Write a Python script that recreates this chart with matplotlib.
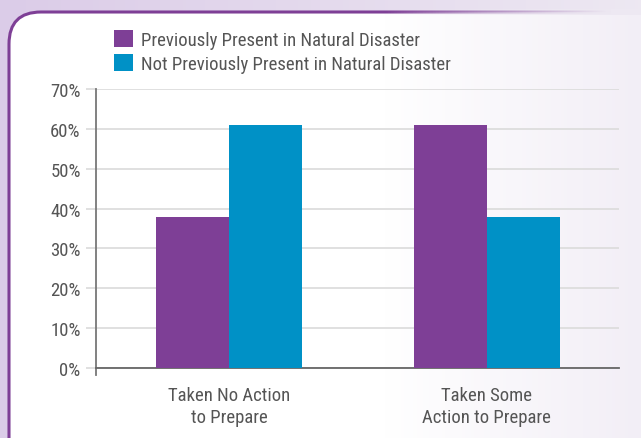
import numpy as np
import matplotlib
matplotlib.use('Agg')
import matplotlib.pyplot as plt
from matplotlib.patches import FancyBboxPatch

# chart data
categories = ['Taken No Action\nto Prepare', 'Taken Some\nAction to Prepare']
series_names = ['Previously Present in Natural Disaster',
                'Not Previously Present in Natural Disaster']
previously = [38, 61]
not_previously = [61, 38]
y_ticks = [0, 10, 20, 30, 40, 50, 60, 70]

PURPLE = '#7e3f96'
BLUE = '#0091c6'
TEXT = '#555555'
FS = 13.5

plt.rcParams['font.family'] = ['Roboto Condensed', 'Liberation Sans Narrow',
                               'Roboto', 'DejaVu Sans']

W, H = 641, 439
fig = plt.figure(figsize=(W / 100, H / 100), dpi=100)

# background: lavender gradient + white rounded panel
bg = fig.add_axes([0, 0, 1, 1])
bg.axis('off')
gx = np.linspace(0, 1, 200)
c0 = np.array([0.86, 0.80, 0.91])
c1 = np.array([0.93, 0.91, 0.95])
grad = c0[None, None, :] * (1 - gx)[None, :, None] + c1[None, None, :] * gx[None, :, None]
grad = np.repeat(grad, 2, axis=0)
bg.imshow(grad, extent=[0, W, H, 0], aspect='auto', zorder=0)

panel = FancyBboxPatch((9, 13), W + 60, H + 60,
                       boxstyle='round,pad=0,rounding_size=32',
                       fc='white', ec=PURPLE, lw=2.2, zorder=1)
bg.add_patch(panel)
# whitish-lavender fade over right side of panel
pg = np.zeros((2, 200, 4))
pg[..., :3] = [0.94, 0.92, 0.96]
pg[..., 3] = np.clip((gx - 0.6) / 0.4, 0, 1)[None, :] * 0.8
im = bg.imshow(pg, extent=[0, W, H, 0], aspect='auto', zorder=2)
im.set_clip_path(panel)
# fade the top border out toward the right
tg = np.zeros((2, 200, 4))
tg[..., :3] = c1
tg[..., 3] = np.clip((gx - 0.6) / 0.35, 0, 1)[None, :]
bg.imshow(tg, extent=[0, W, 16, 10], aspect='auto', zorder=3)
bg.set_xlim(0, W)
bg.set_ylim(H, 0)

# chart
ax = fig.add_axes([96 / W, 1 - 369 / H, (619 - 96) / W, (369 - 90) / H])
ax.patch.set_alpha(0)
x = np.arange(len(categories))
w = 0.283
ax.bar(x - w / 2, previously, w, color=PURPLE, label=series_names[0], zorder=3)
ax.bar(x + w / 2, not_previously, w, color=BLUE, label=series_names[1], zorder=3)

ax.set_xlim(-0.515, 1.512)
ax.set_ylim(0, 70)
ax.set_yticks(y_ticks)
ax.set_yticklabels([f'{v}%' for v in y_ticks], fontsize=FS, color=TEXT)
ax.yaxis.grid(True, color='#dddddd', lw=1.3, zorder=0)
ax.tick_params(axis='y', length=7, width=1.3, color='#dddddd', pad=4)
ax.set_xticks(x)
ax.set_xticklabels(categories, fontsize=FS, color=TEXT, linespacing=1.3)
ax.tick_params(axis='x', length=0, pad=13)
for s in ['top', 'right']:
    ax.spines[s].set_visible(False)
ax.spines['left'].set_color('#777777')
ax.spines['left'].set_linewidth(1.3)
ax.spines['left'].set_bounds(-1.8, 70)
ax.spines['bottom'].set_color('#666666')
ax.spines['bottom'].set_linewidth(1.3)

leg = ax.legend(loc='upper left', bbox_to_anchor=(114 / W, 1 - 31 / H),
                bbox_transform=fig.transFigure, frameon=False, fontsize=FS,
                handlelength=1.0, handleheight=1.0, handletextpad=0.45,
                labelspacing=0.3, borderaxespad=0, borderpad=0)
for t in leg.get_texts():
    t.set_color(TEXT)

fig.savefig('out.png', dpi=100)
